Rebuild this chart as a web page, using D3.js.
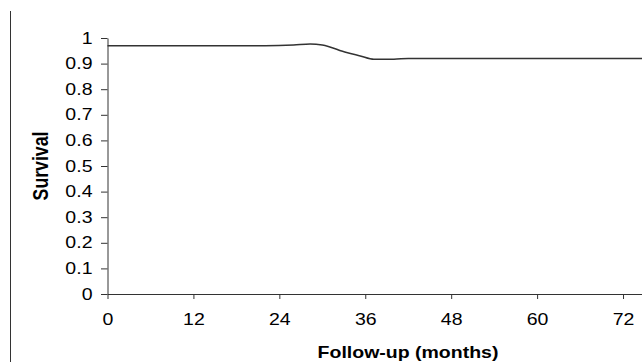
<!DOCTYPE html>
<html>
<head>
<meta charset="utf-8">
<script src="https://cdn.jsdelivr.net/npm/d3@7.9.0/dist/d3.min.js"></script>
<style>
  body { margin: 0; background: #fff; }
  svg { display: block; font-family: "Liberation Sans", Arial, sans-serif; }
</style>
</head>
<body>
<script>
// Survival curve
const months = [0, 22, 26, 28.3, 30, 33.4, 35.3, 37.2, 40, 42, 75];
const survival = [0.970, 0.970, 0.973, 0.977, 0.973, 0.943, 0.930, 0.917, 0.917, 0.920, 0.920];
const xTicks = [0, 12, 24, 36, 48, 60, 72];
const yTicks = [0, 0.1, 0.2, 0.3, 0.4, 0.5, 0.6, 0.7, 0.8, 0.9, 1];

const width = 642, height = 362;
const stretch = 1.22; // text in the original is stretched sideways

const svg = d3.select("body").append("svg")
    .attr("width", width)
    .attr("height", height);

const x = d3.scaleLinear().domain([0, 75]).range([107.5, 644.5]);
const y = d3.scaleLinear().domain([0, 1]).range([294, 38]);

// left frame line
svg.append("line")
    .attr("x1", 10.5).attr("x2", 10.5)
    .attr("y1", 11).attr("y2", height)
    .attr("stroke", "#333").attr("stroke-width", 1);

// x axis
const xAxis = svg.append("g")
    .attr("transform", `translate(0,${y(0)})`)
    .call(d3.axisBottom(x).tickValues(xTicks).tickSize(5).tickSizeOuter(0).tickPadding(15).tickFormat(d3.format("d")));

// y axis
const yAxis = svg.append("g")
    .attr("transform", `translate(${x(0)},0)`)
    .call(d3.axisLeft(y).tickValues(yTicks).tickSize(6.5).tickSizeOuter(0).tickPadding(5.8).tickFormat(d => d3.format("")(+d.toFixed(1))));

[xAxis, yAxis].forEach(ax => {
    ax.select(".domain").attr("stroke", "#333");
    ax.selectAll(".tick line").attr("stroke", "#333");
    ax.selectAll(".tick text")
        .attr("fill", "#000")
        .style("font-size", "16px")
        .attr("transform", `scale(${stretch},1)`);
});

// curve
const line = d3.line()
    .x((d, i) => x(months[i]))
    .y(d => y(d))
    .curve(d3.curveMonotoneX);

svg.append("path")
    .datum(survival)
    .attr("d", line)
    .attr("fill", "none")
    .attr("stroke", "#333")
    .attr("stroke-width", 1.5);

// axis titles
svg.append("text")
    .attr("transform", `translate(408,358) scale(${stretch},1)`)
    .attr("text-anchor", "middle")
    .style("font-size", "16px")
    .style("font-weight", "bold")
    .text("Follow-up (months)");

svg.append("text")
    .attr("transform", `translate(47.5,166) scale(${stretch},1) rotate(-90)`)
    .attr("text-anchor", "middle")
    .style("font-size", "17.7px")
    .style("font-weight", "bold")
    .text("Survival");
</script>
</body>
</html>
